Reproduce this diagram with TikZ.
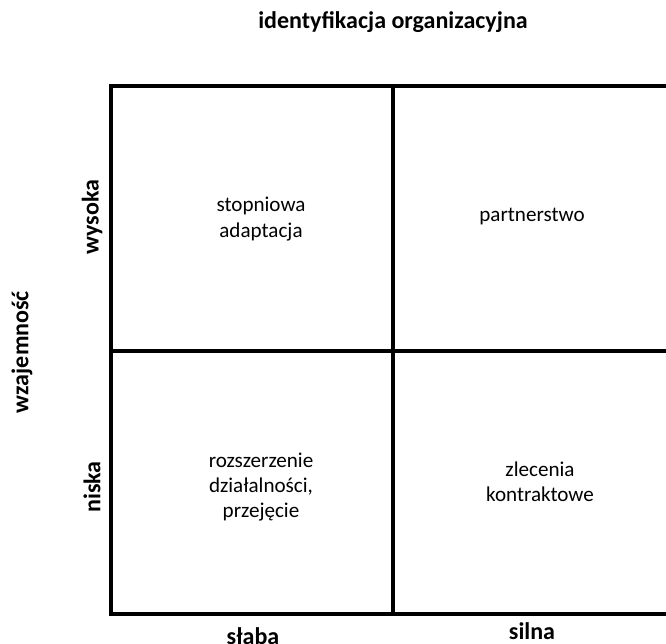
\documentclass[tikz,border=0pt]{standalone}
\usepackage{fontspec}
\setmainfont{Carlito}
\usepackage{tikz}
\usetikzlibrary{positioning}
\tikzstyle{grid} = [line width=2.6pt, line cap=rect]
\tikzstyle{axis} = [font=\bfseries\fontsize{20.5}{24}\selectfont]
\tikzstyle{cell} = [align=center, font=\fontsize{18}{21.5}\selectfont]

\begin{document}
\begin{tikzpicture}[x=0.03cm, y=-0.03cm]
				\useasboundingbox (0, 0) rectangle (666, 644);

				% corners of the grid
				\coordinate (TL) at (111, 86);
				\coordinate (TM) at (393, 86);
				\coordinate (TR) at (670, 86);
				\coordinate (ML) at (111, 351);
				\coordinate (MM) at (393, 351);
				\coordinate (MR) at (670, 351);
				\coordinate (BL) at (111, 614);
				\coordinate (BM) at (393, 614);
				\coordinate (BR) at (670, 614);

				\draw[grid] (TL) -- (TR);
				\draw[grid] (ML) -- (MR);
				\draw[grid] (BL) -- (BR);
				\draw[grid] (TL) -- (BL);
				\draw[grid] (TM) -- (BM);

				% axis titles
				\node (Ident) [axis] at (393, 22) {identyfikacja organizacyjna};
				\node (Wzaj) [axis, rotate=90] at (22, 352) {wzajemność};

				% axis values
				\node (Wysoka) [axis, rotate=90] at (92, 217) {wysoka};
				\node (Niska) [axis, rotate=90] at (92, 487) {niska};
				\node (Slaba) [axis] at (253, 636) {słaba};
				\node (Silna) [axis] at (532, 631) {silna};

				% cells
				\node (Adapt) [cell] at (261, 219) {stopniowa\\adaptacja};
				\node (Partner) [cell] at (532, 217) {partnerstwo};
				\node (Przej) [cell] at (261, 487) {rozszerzenie\\działalności,\\przejęcie};
				\node (Zlec) [cell] at (540, 482) {zlecenia\\kontraktowe};
			\end{tikzpicture}
\end{document}
